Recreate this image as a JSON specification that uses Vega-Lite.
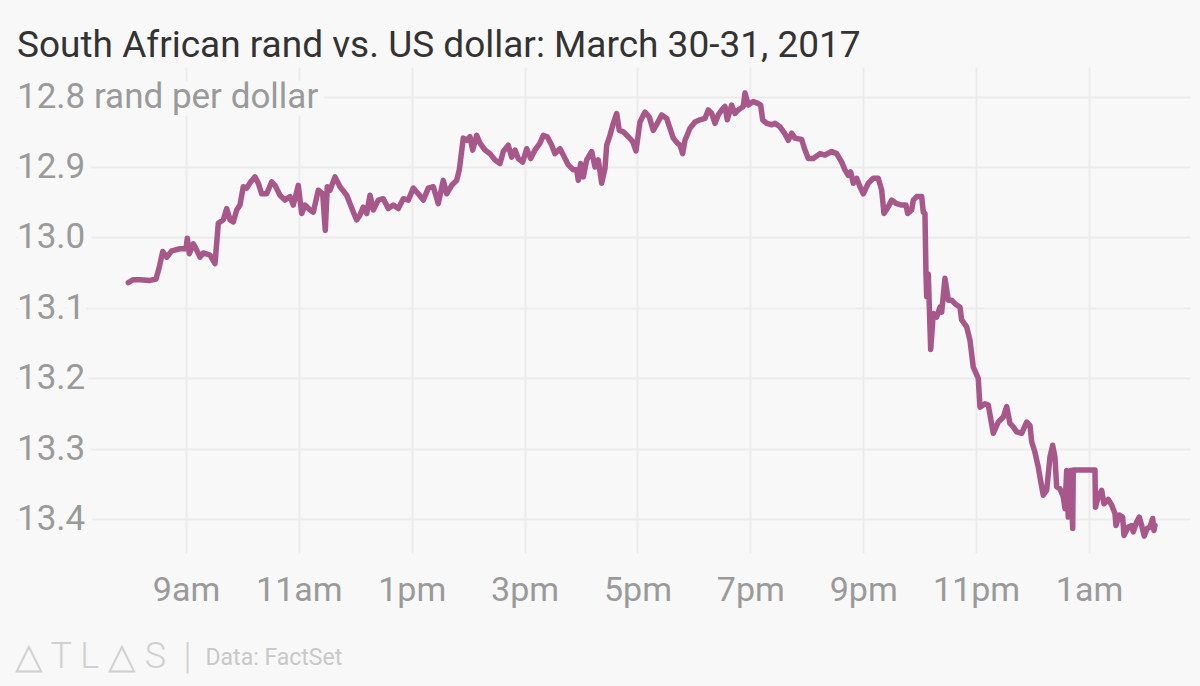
{
  "$schema": "https://vega.github.io/schema/vega-lite/v6.json",
  "autosize": "none",
  "width": 1174,
  "height": 486,
  "padding": {"left": 16, "top": 67, "right": 10, "bottom": 133},
  "background": "#f8f8f8",
  "title": {
    "text": "South African rand vs. US dollar: March 30-31, 2017",
    "anchor": "start",
    "frame": "group",
    "offset": 2,
    "dx": 1,
    "font": "Roboto",
    "fontSize": 37,
    "fontWeight": "normal",
    "color": "#333333"
  },
  "config": {
    "view": {"stroke": null},
    "font": "Roboto"
  },
  "datasets": {
    "ticks": [
      {"tick": 12.8, "label": "12.8 rand per dollar"},
      {"tick": 12.9, "label": "12.9"},
      {"tick": 13.0, "label": "13.0"},
      {"tick": 13.1, "label": "13.1"},
      {"tick": 13.2, "label": "13.2"},
      {"tick": 13.3, "label": "13.3"},
      {"tick": 13.4, "label": "13.4"}
    ],
    "rand": [
      {"t": "2017-03-30T07:58:40", "v": 13.064},
      {"t": "2017-03-30T08:03:58", "v": 13.060},
      {"t": "2017-03-30T08:11:06", "v": 13.060},
      {"t": "2017-03-30T08:21:44", "v": 13.061},
      {"t": "2017-03-30T08:28:07", "v": 13.059},
      {"t": "2017-03-30T08:31:37", "v": 13.042},
      {"t": "2017-03-30T08:35:14", "v": 13.020},
      {"t": "2017-03-30T08:39:29", "v": 13.028},
      {"t": "2017-03-30T08:44:48", "v": 13.019},
      {"t": "2017-03-30T08:53:37", "v": 13.016},
      {"t": "2017-03-30T09:00:00", "v": 13.016},
      {"t": "2017-03-30T09:01:23", "v": 13.001},
      {"t": "2017-03-30T09:03:31", "v": 13.023},
      {"t": "2017-03-30T09:07:46", "v": 13.009},
      {"t": "2017-03-30T09:11:23", "v": 13.018},
      {"t": "2017-03-30T09:14:53", "v": 13.028},
      {"t": "2017-03-30T09:18:23", "v": 13.022},
      {"t": "2017-03-30T09:25:31", "v": 13.025},
      {"t": "2017-03-30T09:30:50", "v": 13.037},
      {"t": "2017-03-30T09:34:20", "v": 12.980},
      {"t": "2017-03-30T09:39:39", "v": 12.975},
      {"t": "2017-03-30T09:43:16", "v": 12.959},
      {"t": "2017-03-30T09:46:47", "v": 12.975},
      {"t": "2017-03-30T09:50:17", "v": 12.978},
      {"t": "2017-03-30T09:53:54", "v": 12.961},
      {"t": "2017-03-30T09:57:25", "v": 12.954},
      {"t": "2017-03-30T10:00:55", "v": 12.928},
      {"t": "2017-03-30T10:04:32", "v": 12.930},
      {"t": "2017-03-30T10:08:47", "v": 12.921},
      {"t": "2017-03-30T10:13:21", "v": 12.914},
      {"t": "2017-03-30T10:16:52", "v": 12.923},
      {"t": "2017-03-30T10:20:29", "v": 12.938},
      {"t": "2017-03-30T10:25:47", "v": 12.938},
      {"t": "2017-03-30T10:31:07", "v": 12.921},
      {"t": "2017-03-30T10:34:37", "v": 12.926},
      {"t": "2017-03-30T10:39:56", "v": 12.940},
      {"t": "2017-03-30T10:45:15", "v": 12.947},
      {"t": "2017-03-30T10:50:34", "v": 12.942},
      {"t": "2017-03-30T10:54:04", "v": 12.954},
      {"t": "2017-03-30T10:59:23", "v": 12.926},
      {"t": "2017-03-30T11:03:00", "v": 12.966},
      {"t": "2017-03-30T11:06:31", "v": 12.954},
      {"t": "2017-03-30T11:11:49", "v": 12.961},
      {"t": "2017-03-30T11:15:20", "v": 12.964},
      {"t": "2017-03-30T11:20:39", "v": 12.933},
      {"t": "2017-03-30T11:25:20", "v": 12.938},
      {"t": "2017-03-30T11:28:05", "v": 12.990},
      {"t": "2017-03-30T11:30:13", "v": 12.928},
      {"t": "2017-03-30T11:33:05", "v": 12.933},
      {"t": "2017-03-30T11:38:24", "v": 12.914},
      {"t": "2017-03-30T11:43:43", "v": 12.928},
      {"t": "2017-03-30T11:50:50", "v": 12.940},
      {"t": "2017-03-30T11:57:52", "v": 12.964},
      {"t": "2017-03-30T12:01:28", "v": 12.975},
      {"t": "2017-03-30T12:04:59", "v": 12.968},
      {"t": "2017-03-30T12:08:29", "v": 12.957},
      {"t": "2017-03-30T12:12:07", "v": 12.966},
      {"t": "2017-03-30T12:15:37", "v": 12.940},
      {"t": "2017-03-30T12:19:07", "v": 12.961},
      {"t": "2017-03-30T12:24:26", "v": 12.947},
      {"t": "2017-03-30T12:29:45", "v": 12.945},
      {"t": "2017-03-30T12:35:04", "v": 12.959},
      {"t": "2017-03-30T12:40:23", "v": 12.954},
      {"t": "2017-03-30T12:45:42", "v": 12.959},
      {"t": "2017-03-30T12:51:01", "v": 12.945},
      {"t": "2017-03-30T12:56:20", "v": 12.947},
      {"t": "2017-03-30T13:01:39", "v": 12.930},
      {"t": "2017-03-30T13:06:58", "v": 12.938},
      {"t": "2017-03-30T13:12:17", "v": 12.947},
      {"t": "2017-03-30T13:17:35", "v": 12.930},
      {"t": "2017-03-30T13:22:55", "v": 12.928},
      {"t": "2017-03-30T13:28:13", "v": 12.952},
      {"t": "2017-03-30T13:33:32", "v": 12.919},
      {"t": "2017-03-30T13:37:09", "v": 12.938},
      {"t": "2017-03-30T13:42:28", "v": 12.926},
      {"t": "2017-03-30T13:47:47", "v": 12.919},
      {"t": "2017-03-30T13:50:32", "v": 12.904},
      {"t": "2017-03-30T13:54:48", "v": 12.859},
      {"t": "2017-03-30T13:58:25", "v": 12.862},
      {"t": "2017-03-30T14:01:55", "v": 12.857},
      {"t": "2017-03-30T14:04:47", "v": 12.876},
      {"t": "2017-03-30T14:09:02", "v": 12.855},
      {"t": "2017-03-30T14:12:33", "v": 12.866},
      {"t": "2017-03-30T14:17:52", "v": 12.876},
      {"t": "2017-03-30T14:23:11", "v": 12.881},
      {"t": "2017-03-30T14:28:30", "v": 12.890},
      {"t": "2017-03-30T14:33:49", "v": 12.895},
      {"t": "2017-03-30T14:37:19", "v": 12.878},
      {"t": "2017-03-30T14:42:38", "v": 12.869},
      {"t": "2017-03-30T14:46:15", "v": 12.886},
      {"t": "2017-03-30T14:49:46", "v": 12.876},
      {"t": "2017-03-30T14:53:16", "v": 12.888},
      {"t": "2017-03-30T14:57:57", "v": 12.893},
      {"t": "2017-03-30T15:02:12", "v": 12.874},
      {"t": "2017-03-30T15:06:27", "v": 12.888},
      {"t": "2017-03-30T15:11:01", "v": 12.876},
      {"t": "2017-03-30T15:16:20", "v": 12.866},
      {"t": "2017-03-30T15:19:51", "v": 12.855},
      {"t": "2017-03-30T15:24:06", "v": 12.857},
      {"t": "2017-03-30T15:28:47", "v": 12.869},
      {"t": "2017-03-30T15:32:17", "v": 12.881},
      {"t": "2017-03-30T15:37:36", "v": 12.874},
      {"t": "2017-03-30T15:41:07", "v": 12.883},
      {"t": "2017-03-30T15:46:26", "v": 12.897},
      {"t": "2017-03-30T15:51:44", "v": 12.904},
      {"t": "2017-03-30T15:55:22", "v": 12.904},
      {"t": "2017-03-30T15:57:04", "v": 12.919},
      {"t": "2017-03-30T15:59:37", "v": 12.895},
      {"t": "2017-03-30T16:02:22", "v": 12.914},
      {"t": "2017-03-30T16:05:59", "v": 12.890},
      {"t": "2017-03-30T16:11:18", "v": 12.878},
      {"t": "2017-03-30T16:14:49", "v": 12.900},
      {"t": "2017-03-30T16:18:19", "v": 12.890},
      {"t": "2017-03-30T16:21:56", "v": 12.923},
      {"t": "2017-03-30T16:25:26", "v": 12.902},
      {"t": "2017-03-30T16:27:15", "v": 12.869},
      {"t": "2017-03-30T16:30:46", "v": 12.855},
      {"t": "2017-03-30T16:34:16", "v": 12.838},
      {"t": "2017-03-30T16:37:53", "v": 12.824},
      {"t": "2017-03-30T16:40:38", "v": 12.848},
      {"t": "2017-03-30T16:44:54", "v": 12.850},
      {"t": "2017-03-30T16:50:13", "v": 12.857},
      {"t": "2017-03-30T16:54:53", "v": 12.864},
      {"t": "2017-03-30T16:58:24", "v": 12.877},
      {"t": "2017-03-30T17:02:39", "v": 12.836},
      {"t": "2017-03-30T17:07:58", "v": 12.822},
      {"t": "2017-03-30T17:12:32", "v": 12.829},
      {"t": "2017-03-30T17:16:47", "v": 12.848},
      {"t": "2017-03-30T17:21:02", "v": 12.838},
      {"t": "2017-03-30T17:25:43", "v": 12.826},
      {"t": "2017-03-30T17:31:02", "v": 12.831},
      {"t": "2017-03-30T17:34:32", "v": 12.845},
      {"t": "2017-03-30T17:38:03", "v": 12.859},
      {"t": "2017-03-30T17:42:18", "v": 12.866},
      {"t": "2017-03-30T17:45:11", "v": 12.869},
      {"t": "2017-03-30T17:48:03", "v": 12.881},
      {"t": "2017-03-30T17:50:29", "v": 12.862},
      {"t": "2017-03-30T17:55:49", "v": 12.845},
      {"t": "2017-03-30T18:01:07", "v": 12.836},
      {"t": "2017-03-30T18:06:26", "v": 12.833},
      {"t": "2017-03-30T18:11:45", "v": 12.831},
      {"t": "2017-03-30T18:15:16", "v": 12.819},
      {"t": "2017-03-30T18:18:52", "v": 12.824},
      {"t": "2017-03-30T18:22:23", "v": 12.838},
      {"t": "2017-03-30T18:25:53", "v": 12.826},
      {"t": "2017-03-30T18:29:31", "v": 12.819},
      {"t": "2017-03-30T18:33:01", "v": 12.814},
      {"t": "2017-03-30T18:35:28", "v": 12.833},
      {"t": "2017-03-30T18:40:08", "v": 12.812},
      {"t": "2017-03-30T18:43:39", "v": 12.824},
      {"t": "2017-03-30T18:47:09", "v": 12.819},
      {"t": "2017-03-30T18:52:28", "v": 12.814},
      {"t": "2017-03-30T18:54:17", "v": 12.795},
      {"t": "2017-03-30T18:57:47", "v": 12.812},
      {"t": "2017-03-30T19:03:06", "v": 12.807},
      {"t": "2017-03-30T19:08:25", "v": 12.810},
      {"t": "2017-03-30T19:10:58", "v": 12.812},
      {"t": "2017-03-30T19:13:05", "v": 12.833},
      {"t": "2017-03-30T19:17:21", "v": 12.838},
      {"t": "2017-03-30T19:22:40", "v": 12.840},
      {"t": "2017-03-30T19:26:10", "v": 12.838},
      {"t": "2017-03-30T19:31:29", "v": 12.843},
      {"t": "2017-03-30T19:36:48", "v": 12.853},
      {"t": "2017-03-30T19:40:19", "v": 12.862},
      {"t": "2017-03-30T19:43:55", "v": 12.852},
      {"t": "2017-03-30T19:47:26", "v": 12.859},
      {"t": "2017-03-30T19:54:33", "v": 12.861},
      {"t": "2017-03-30T19:58:04", "v": 12.876},
      {"t": "2017-03-30T20:01:34", "v": 12.888},
      {"t": "2017-03-30T20:06:53", "v": 12.888},
      {"t": "2017-03-30T20:14:01", "v": 12.881},
      {"t": "2017-03-30T20:19:20", "v": 12.883},
      {"t": "2017-03-30T20:26:27", "v": 12.878},
      {"t": "2017-03-30T20:31:46", "v": 12.881},
      {"t": "2017-03-30T20:37:05", "v": 12.893},
      {"t": "2017-03-30T20:40:35", "v": 12.904},
      {"t": "2017-03-30T20:44:06", "v": 12.912},
      {"t": "2017-03-30T20:46:39", "v": 12.907},
      {"t": "2017-03-30T20:49:25", "v": 12.923},
      {"t": "2017-03-30T20:53:02", "v": 12.916},
      {"t": "2017-03-30T20:56:32", "v": 12.928},
      {"t": "2017-03-30T21:00:03", "v": 12.938},
      {"t": "2017-03-30T21:05:22", "v": 12.923},
      {"t": "2017-03-30T21:10:41", "v": 12.916},
      {"t": "2017-03-30T21:15:59", "v": 12.916},
      {"t": "2017-03-30T21:19:37", "v": 12.933},
      {"t": "2017-03-30T21:22:03", "v": 12.966},
      {"t": "2017-03-30T21:25:34", "v": 12.959},
      {"t": "2017-03-30T21:30:14", "v": 12.947},
      {"t": "2017-03-30T21:35:33", "v": 12.952},
      {"t": "2017-03-30T21:40:52", "v": 12.954},
      {"t": "2017-03-30T21:45:26", "v": 12.954},
      {"t": "2017-03-30T21:47:15", "v": 12.966},
      {"t": "2017-03-30T21:51:30", "v": 12.961},
      {"t": "2017-03-30T21:53:12", "v": 12.947},
      {"t": "2017-03-30T21:56:49", "v": 12.942},
      {"t": "2017-03-30T22:02:08", "v": 12.942},
      {"t": "2017-03-30T22:03:50", "v": 12.964},
      {"t": "2017-03-30T22:05:38", "v": 12.966},
      {"t": "2017-03-30T22:06:42", "v": 13.051},
      {"t": "2017-03-30T22:07:27", "v": 13.084},
      {"t": "2017-03-30T22:09:09", "v": 13.052},
      {"t": "2017-03-30T22:11:42", "v": 13.159},
      {"t": "2017-03-30T22:14:28", "v": 13.108},
      {"t": "2017-03-30T22:18:05", "v": 13.113},
      {"t": "2017-03-30T22:21:35", "v": 13.099},
      {"t": "2017-03-30T22:23:24", "v": 13.106},
      {"t": "2017-03-30T22:26:54", "v": 13.058},
      {"t": "2017-03-30T22:30:25", "v": 13.089},
      {"t": "2017-03-30T22:34:01", "v": 13.089},
      {"t": "2017-03-30T22:37:32", "v": 13.094},
      {"t": "2017-03-30T22:42:51", "v": 13.099},
      {"t": "2017-03-30T22:44:39", "v": 13.117},
      {"t": "2017-03-30T22:49:58", "v": 13.127},
      {"t": "2017-03-30T22:53:29", "v": 13.146},
      {"t": "2017-03-30T22:56:59", "v": 13.184},
      {"t": "2017-03-30T23:02:18", "v": 13.200},
      {"t": "2017-03-30T23:04:07", "v": 13.241},
      {"t": "2017-03-30T23:09:25", "v": 13.236},
      {"t": "2017-03-30T23:12:56", "v": 13.238},
      {"t": "2017-03-30T23:18:15", "v": 13.278},
      {"t": "2017-03-30T23:23:34", "v": 13.262},
      {"t": "2017-03-30T23:28:53", "v": 13.255},
      {"t": "2017-03-30T23:32:29", "v": 13.240},
      {"t": "2017-03-30T23:36:00", "v": 13.264},
      {"t": "2017-03-30T23:39:31", "v": 13.269},
      {"t": "2017-03-30T23:43:07", "v": 13.276},
      {"t": "2017-03-30T23:48:26", "v": 13.278},
      {"t": "2017-03-30T23:53:45", "v": 13.262},
      {"t": "2017-03-30T23:57:16", "v": 13.267},
      {"t": "2017-03-30T23:59:04", "v": 13.290},
      {"t": "2017-03-31T00:02:35", "v": 13.305},
      {"t": "2017-03-31T00:06:05", "v": 13.326},
      {"t": "2017-03-31T00:07:53", "v": 13.340},
      {"t": "2017-03-31T00:11:24", "v": 13.366},
      {"t": "2017-03-31T00:15:01", "v": 13.359},
      {"t": "2017-03-31T00:18:32", "v": 13.312},
      {"t": "2017-03-31T00:21:24", "v": 13.295},
      {"t": "2017-03-31T00:23:50", "v": 13.312},
      {"t": "2017-03-31T00:25:39", "v": 13.354},
      {"t": "2017-03-31T00:29:10", "v": 13.357},
      {"t": "2017-03-31T00:32:40", "v": 13.368},
      {"t": "2017-03-31T00:34:28", "v": 13.385},
      {"t": "2017-03-31T00:36:17", "v": 13.331},
      {"t": "2017-03-31T00:37:59", "v": 13.397},
      {"t": "2017-03-31T00:40:32", "v": 13.331},
      {"t": "2017-03-31T00:42:40", "v": 13.413},
      {"t": "2017-03-31T00:43:17", "v": 13.330},
      {"t": "2017-03-31T01:06:22", "v": 13.330},
      {"t": "2017-03-31T01:06:54", "v": 13.383},
      {"t": "2017-03-31T01:09:52", "v": 13.368},
      {"t": "2017-03-31T01:13:29", "v": 13.359},
      {"t": "2017-03-31T01:15:56", "v": 13.378},
      {"t": "2017-03-31T01:20:31", "v": 13.372},
      {"t": "2017-03-31T01:24:07", "v": 13.380},
      {"t": "2017-03-31T01:27:38", "v": 13.392},
      {"t": "2017-03-31T01:28:41", "v": 13.409},
      {"t": "2017-03-31T01:32:12", "v": 13.394},
      {"t": "2017-03-31T01:35:49", "v": 13.397},
      {"t": "2017-03-31T01:37:12", "v": 13.423},
      {"t": "2017-03-31T01:41:46", "v": 13.411},
      {"t": "2017-03-31T01:45:23", "v": 13.409},
      {"t": "2017-03-31T01:47:05", "v": 13.418},
      {"t": "2017-03-31T01:50:42", "v": 13.404},
      {"t": "2017-03-31T01:53:28", "v": 13.397},
      {"t": "2017-03-31T01:56:01", "v": 13.409},
      {"t": "2017-03-31T01:58:47", "v": 13.424},
      {"t": "2017-03-31T02:01:58", "v": 13.413},
      {"t": "2017-03-31T02:04:50", "v": 13.411},
      {"t": "2017-03-31T02:07:43", "v": 13.399},
      {"t": "2017-03-31T02:09:05", "v": 13.416},
      {"t": "2017-03-31T02:10:09", "v": 13.409}
    ]
  },
  "layer": [
    {
      "data": {"name": "rand"},
      "mark": {"type": "line", "color": "#a8578a", "strokeWidth": 5.5, "strokeJoin": "round", "strokeCap": "round"},
      "encoding": {
        "x": {
          "field": "t",
          "type": "temporal",
          "scale": {
            "domain": [
              {"year": 2017, "month": 3, "date": 30, "hours": 5, "minutes": 59, "seconds": 16},
              {"year": 2017, "month": 3, "date": 31, "hours": 2, "minutes": 47, "seconds": 24}
            ]
          },
          "axis": {
            "values": [
              {"year": 2017, "month": 3, "date": 30, "hours": 9},
              {"year": 2017, "month": 3, "date": 30, "hours": 11},
              {"year": 2017, "month": 3, "date": 30, "hours": 13},
              {"year": 2017, "month": 3, "date": 30, "hours": 15},
              {"year": 2017, "month": 3, "date": 30, "hours": 17},
              {"year": 2017, "month": 3, "date": 30, "hours": 19},
              {"year": 2017, "month": 3, "date": 30, "hours": 21},
              {"year": 2017, "month": 3, "date": 30, "hours": 23},
              {"year": 2017, "month": 3, "date": 31, "hours": 1}
            ],
            "labelExpr": "lower(timeFormat(datum.value, '%-I%p'))",
            "labelFont": "Roboto",
            "labelFontSize": 34,
            "labelColor": "#9a9a9a",
            "labelPadding": 20,
            "labelFlush": false,
            "labelOverlap": false,
            "ticks": false,
            "domain": false,
            "grid": true,
            "gridColor": "#ebebeb",
            "gridWidth": 2,
            "title": "Data: FactSet",
            "titleFont": "Roboto",
            "titleFontSize": 23,
            "titleFontWeight": "normal",
            "titleColor": "#c8c8c8",
            "titleAlign": "left",
            "titleBaseline": "middle",
            "titleX": 189,
            "titleY": 104
          }
        },
        "y": {
          "field": "v",
          "type": "quantitative",
          "scale": {"domain": [12.758, 13.448], "reverse": true, "nice": false, "zero": false},
          "axis": {
            "values": [12.8, 12.9, 13.0, 13.1, 13.2, 13.3, 13.4],
            "labels": false,
            "ticks": false,
            "domain": false,
            "grid": true,
            "gridColor": "#ebebeb",
            "gridWidth": 2,
            "title": "△ T L △ S\u00a0 |",
            "titleAngle": 0,
            "titleFont": "Roboto",
            "titleFontSize": 36,
            "titleFontWeight": 300,
            "titleColor": "#d0d0d0",
            "titleAlign": "left",
            "titleBaseline": "middle",
            "titleX": -2,
            "titleY": 589
          }
        }
      }
    },
    {
      "data": {"name": "ticks"},
      "mark": {"type": "text", "align": "left", "baseline": "middle", "dx": 1, "fontSize": 35, "font": "Roboto", "fill": "#f8f8f8", "stroke": "#f8f8f8", "strokeWidth": 16, "strokeJoin": "round"},
      "encoding": {
        "x": {"datum": {"year": 2017, "month": 3, "date": 30, "hours": 5, "minutes": 59, "seconds": 16}, "type": "temporal"},
        "y": {"field": "tick", "type": "quantitative"},
        "text": {"field": "label"}
      }
    },
    {
      "data": {"name": "ticks"},
      "mark": {"type": "text", "align": "left", "baseline": "middle", "dx": 1, "fontSize": 35, "font": "Roboto", "color": "#9a9a9a"},
      "encoding": {
        "x": {"datum": {"year": 2017, "month": 3, "date": 30, "hours": 5, "minutes": 59, "seconds": 16}, "type": "temporal"},
        "y": {"field": "tick", "type": "quantitative"},
        "text": {"field": "label"}
      }
    }
  ]
}
